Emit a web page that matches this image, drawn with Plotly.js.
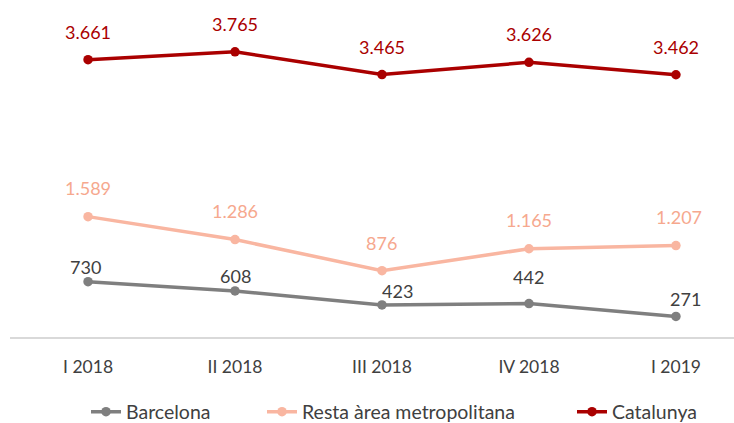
<!DOCTYPE html>
<html>
<head>
<meta charset="utf-8">
<script src="https://cdn.plot.ly/plotly-3.0.1.min.js"></script>
<style>html,body{margin:0;padding:0;background:#fff;}#chart{width:734px;height:423px;}</style>
</head>
<body>
<div id="chart"></div>
<script>
const categories = ["I 2018", "II 2018", "III 2018", "IV 2018", "I 2019"];
const barcelona = [730, 608, 423, 442, 271];
const resta = [1589, 1286, 876, 1165, 1207];
const catalunya = [3661, 3765, 3465, 3626, 3462];
const seriesNames = ["Barcelona", "Resta àrea metropolitana", "Catalunya"];

const fmt = v => v >= 1000 ? Math.floor(v/1000) + "." + String(v % 1000).padStart(3, "0") : String(v);

// styling
const lineColors = ["#7f7f7f", "#f9b6a1", "#aa0000"];
const labelColors = ["#404040", "#f6a88e", "#aa0000"];
const labelShiftY = [[15, 15, 14, 27, 17], [29, 29, 28, 29, 29], [28, 28, 28, 28, 28]];
const labelShiftX = [[-3, 0, 16, 0, 10], [0, 0, 0, 0, 3], [0, 0, 0, 0, 0]];
const legendX = [86/734, 262/734, 572/734];
const FONT = "Lato, sans-serif";

const allSeries = [barcelona, resta, catalunya];
const legendIds = ["legend", "legend2", "legend3"];

const traces = allSeries.map((vals, i) => ({
  x: categories, y: vals, name: seriesNames[i], type: "scatter", mode: "lines+markers",
  line: {color: lineColors[i], width: 3.5},
  marker: {color: lineColors[i], size: 9.5},
  legend: legendIds[i],
  hoverinfo: "none"
}));

const annotations = [];
allSeries.forEach((vals, i) => {
  vals.forEach((v, j) => {
    annotations.push({x: categories[j], y: v, text: fmt(v), showarrow: false,
      xshift: labelShiftX[i][j], yshift: labelShiftY[i][j],
      font: {family: FONT, size: 18, color: labelColors[i]}});
  });
});

const legendBase = i => ({orientation: "h", xref: "container", yref: "container",
  x: legendX[i], xanchor: "left", y: 11/423, yanchor: "middle",
  bgcolor: "rgba(0,0,0,0)",
  font: {family: FONT, size: 19.5, color: "#404040"}});

const layout = {
  width: 734, height: 423,
  margin: {l: 10, r: 0, t: 34, b: 86},
  paper_bgcolor: "#fff", plot_bgcolor: "#fff",
  showlegend: true,
  legend: legendBase(0), legend2: legendBase(1), legend3: legendBase(2),
  xaxis: {type: "category", range: [-0.531, 4.395], showgrid: false, zeroline: false,
    showline: true, linecolor: "#d9d9d9", linewidth: 1.5,
    ticks: "outside", ticklen: 13, tickcolor: "rgba(0,0,0,0)",
    tickfont: {family: FONT, size: 17.5, color: "#404040"}, fixedrange: true},
  yaxis: {range: [0, 4000], visible: false, showgrid: false, zeroline: false, fixedrange: true},
  annotations: annotations
};

Plotly.newPlot("chart", traces, layout, {displayModeBar: false, staticPlot: true});
</script>
</body>
</html>
